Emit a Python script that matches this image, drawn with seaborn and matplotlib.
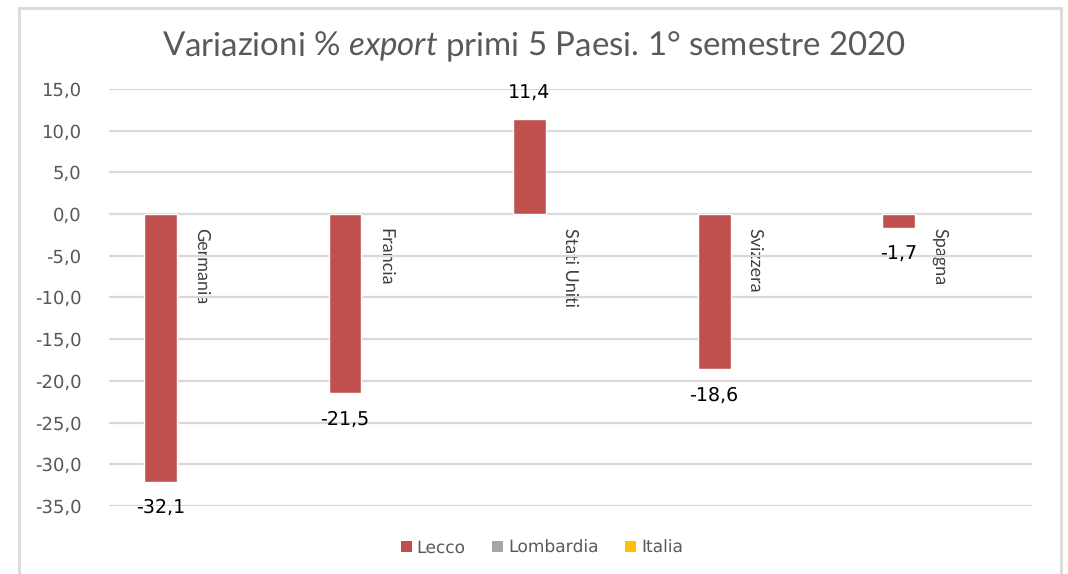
import matplotlib
matplotlib.use("Agg")
import matplotlib.pyplot as plt
from matplotlib.patches import Patch, Rectangle
import seaborn as sns
import pandas as pd
import numpy as np

paesi = ["Germania", "Francia", "Stati Uniti", "Svizzera", "Spagna"]
serie = ["Lecco", "Lombardia", "Italia"]
lecco = [-32.1, -21.5, 11.4, -18.6, -1.7]
lombardia = [np.nan] * 5
italia = [np.nan] * 5
colori = {"Lecco": "#C0504D", "Lombardia": "#A5A5A5", "Italia": "#FFC000"}
yticks = [-35, -30, -25, -20, -15, -10, -5, 0, 5, 10, 15]

df = pd.DataFrame({
    "Paese": paesi * 3,
    "Serie": ["Lecco"] * 5 + ["Lombardia"] * 5 + ["Italia"] * 5,
    "Valore": lecco + lombardia + italia,
})

sns.set_style("white")
plt.rcParams["font.family"] = ["DejaVu Sans"]
plt.rcParams["mathtext.fontset"] = "custom"
plt.rcParams["mathtext.it"] = "Lato:italic"
plt.rcParams["mathtext.rm"] = "Lato"
plt.rcParams["text.hinting"] = "no_hinting"
plt.rcParams["text.hinting_factor"] = 1

fig = plt.figure(figsize=(10.68, 5.74), dpi=100)
ax = fig.add_axes([109 / 1068, 68 / 574, (1032 - 109) / 1068, (506 - 89) / 574])

sns.barplot(data=df, x="Paese", y="Valore", hue="Serie", hue_order=serie,
            order=paesi, palette=colori, width=0.666, gap=0.2,
            errorbar=None, ax=ax, legend=False, saturation=1)

ax.set_ylim(-35, 15)
ax.set_xlim(-0.5, len(paesi) - 0.5)
ax.set_yticks(yticks)
ax.set_yticklabels([f"{v:.1f}".replace(".", ",") for v in yticks],
                   fontsize=13, color="#595959")
ax.yaxis.grid(True, color="#d9d9d9", linewidth=1.6)
ax.set_axisbelow(True)
for s in ax.spines.values():
    s.set_visible(False)
ax.spines["bottom"].set_position(("data", 0))
ax.tick_params(axis="y", length=0, pad=20)
ax.tick_params(axis="x", length=0, pad=10)
ax.set_xticks(range(len(paesi)))
ax.set_xticklabels(paesi, rotation=270, ha="center", va="top",
                   fontsize=13, color="#404040", family="Lato")
ax.set_xlabel("")
ax.set_ylabel("")

for c in ax.containers:
    vals = c.datavalues
    labels = ["" if np.isnan(v) else f"{v:.1f}".replace(".", ",") for v in vals]
    ax.bar_label(c, labels=labels, padding=12, fontsize=14, color="#000000")

handles = [Patch(facecolor=colori[s], edgecolor="none", label=s) for s in serie]
fig.legend(handles=handles, loc="center", bbox_to_anchor=(0.5075, 1 - 548 / 574),
           ncol=3, frameon=False, fontsize=12, handlelength=0.65,
           handleheight=0.65, handletextpad=0.3, columnspacing=1.6,
           labelcolor="#595959")

fig.text(0.5, 1 - 46 / 574,
         r"Variazioni % $\mathit{export}$ primi 5 Paesi. 1° semestre 2020",
         ha="center", va="center", fontsize=23.5, color="#595959", family="Lato")

fig.patches.append(Rectangle((19 / 1068, -0.01), (1061 - 19) / 1068, 1 - 8 / 574 + 0.01,
                             transform=fig.transFigure, fill=False,
                             edgecolor="#d9d9d9", linewidth=2))

fig.savefig("out.png", dpi=100)
